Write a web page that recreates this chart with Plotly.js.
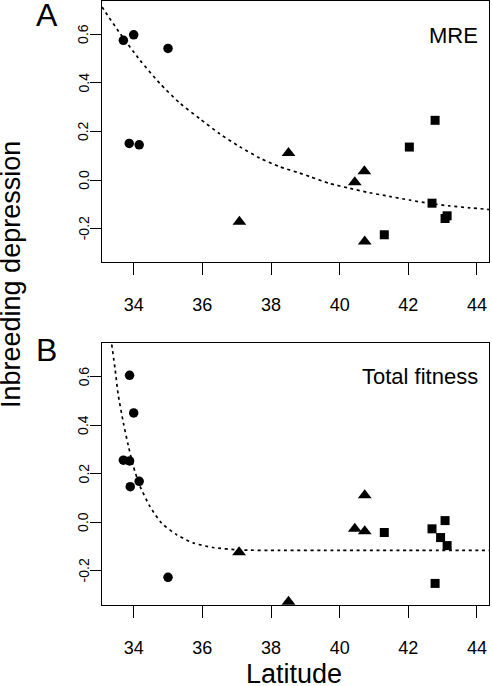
<!DOCTYPE html>
<html>
<head>
<meta charset="utf-8">
<script src="https://cdn.plot.ly/plotly-3.0.1.min.js"></script>
<style>
  html, body { margin: 0; padding: 0; background: #fff; }
  #chart { width: 492px; height: 686px; }
</style>
</head>
<body>
<div id="chart"></div>
<script>
// ---- Panel A (MRE) ----
const mreCircleLat = [33.70, 34.00, 35.00, 33.87, 34.16];
const mreCircleVal = [0.575, 0.598, 0.542, 0.151, 0.145];
const mreTriLat = [37.08, 38.51, 40.44, 40.72, 40.73];
const mreTriVal = [-0.171, 0.111, -0.009, 0.036, -0.253];
const mreSqLat = [42.03, 42.78, 42.69, 43.13, 43.07, 41.30];
const mreSqVal = [0.136, 0.246, -0.095, -0.147, -0.158, -0.225];
const mreFitLat = [33.08, 33.17, 33.60, 34.18, 34.76, 35.35, 35.93, 36.51, 37.09, 37.67, 38.25, 38.81, 39.14, 39.71, 40.30, 40.87, 41.45, 42.03, 42.61, 43.19, 43.78, 44.35];
const mreFitVal = [0.712, 0.693, 0.604, 0.494, 0.398, 0.316, 0.252, 0.190, 0.137, 0.091, 0.055, 0.030, 0.014, -0.014, -0.034, -0.052, -0.067, -0.082, -0.096, -0.106, -0.114, -0.121];

// ---- Panel B (Total fitness) ----
const totCircleLat = [33.88, 34.00, 33.70, 33.88, 33.90, 34.16, 35.00];
const totCircleVal = [0.606, 0.451, 0.256, 0.253, 0.147, 0.169, -0.227];
const totTriLat = [37.07, 40.73, 40.44, 40.73, 38.51];
const totTriVal = [-0.123, 0.111, -0.027, -0.037, -0.328];
const totSqLat = [41.30, 42.69, 43.07, 42.94, 43.13, 42.78];
const totSqVal = [-0.042, -0.027, 0.007, -0.063, -0.096, -0.252];
const totFitLat = [33.36, 33.46, 33.55, 33.70, 33.84, 33.99, 34.18, 34.47, 34.81, 35.25, 35.73, 36.31, 37.09, 38.25, 40.00, 42.00, 44.35];
const totFitVal = [0.733, 0.630, 0.525, 0.410, 0.318, 0.231, 0.150, 0.066, -0.003, -0.051, -0.085, -0.104, -0.114, -0.116, -0.116, -0.116, -0.116];

// ---- Ticks / labels ----
const xTickVals = [34, 36, 38, 40, 42, 44];
const yTickVals = [-0.2, 0.0, 0.2, 0.4, 0.6];
const yTickText = ['-0.2', '0.0', '0.2', '0.4', '0.6'];
const panelLetters = ['A', 'B'];
const panelTitles = ['MRE', 'Total fitness'];
const xTitle = 'Latitude';
const yTitle = 'Inbreeding depression';

const FONT = 'Liberation Sans, Arial, Helvetica, sans-serif';

function pts(x, y, sym, size, xa, ya) {
  return {
    x: x, y: y, xaxis: xa, yaxis: ya, type: 'scatter', mode: 'markers',
    cliponaxis: false, hoverinfo: 'skip', showlegend: false,
    marker: { symbol: sym, size: size, color: '#000', line: { width: 0 } }
  };
}
function fit(x, y, xa, ya) {
  return {
    x: x, y: y, xaxis: xa, yaxis: ya, type: 'scatter', mode: 'lines',
    hoverinfo: 'skip', showlegend: false,
    line: { color: '#000', width: 1.7, dash: '3px,3.6px', shape: 'spline', smoothing: 0.6 }
  };
}

const data = [
  fit(mreFitLat, mreFitVal, 'x', 'y'),
  pts(mreCircleLat, mreCircleVal, 'circle', 9.5, 'x', 'y'),
  pts(mreTriLat, mreTriVal, 'triangle-up', 12, 'x', 'y'),
  pts(mreSqLat, mreSqVal, 'square', 9, 'x', 'y'),
  fit(totFitLat, totFitVal, 'x2', 'y2'),
  pts(totCircleLat, totCircleVal, 'circle', 9.5, 'x2', 'y2'),
  pts(totTriLat, totTriVal, 'triangle-up', 12, 'x2', 'y2'),
  pts(totSqLat, totSqVal, 'square', 9, 'x2', 'y2')
];

function xax(anchor) {
  return {
    anchor: anchor, range: [33.077, 44.35], domain: [0, 1],
    tickvals: xTickVals, ticks: 'outside', ticklen: 12, tickwidth: 1, tickcolor: '#000',
    ticklabelstandoff: 14,
    showline: true, mirror: true, linecolor: '#000', linewidth: 1,
    showgrid: false, zeroline: false,
    tickfont: { family: FONT, size: 18, color: '#000' }
  };
}
function yax(anchor, dom, range) {
  return {
    anchor: anchor, range: range, domain: dom,
    tickvals: yTickVals, showticklabels: false,
    ticks: 'outside', ticklen: 11, tickwidth: 1, tickcolor: '#000',
    showline: true, mirror: true, linecolor: '#000', linewidth: 1,
    showgrid: false, zeroline: false
  };
}

const annFont = (s) => ({ family: FONT, size: s, color: '#000' });
const annotations = [
  { text: panelLetters[0], xref: 'paper', yref: 'paper', x: -0.142, y: 0.9763, xanchor: 'center', yanchor: 'middle', showarrow: false, font: annFont(32) },
  { text: panelLetters[1], xref: 'paper', yref: 'paper', x: -0.144, y: 0.4227, xanchor: 'center', yanchor: 'middle', showarrow: false, font: annFont(32) },
  { text: panelTitles[0], xref: 'paper', yref: 'paper', x: 0.9755, y: 0.9437, xanchor: 'right', yanchor: 'middle', showarrow: false, font: annFont(22) },
  { text: panelTitles[1], xref: 'paper', yref: 'paper', x: 0.9767, y: 0.3791, xanchor: 'right', yanchor: 'middle', showarrow: false, font: annFont(22) },
  { text: xTitle, xref: 'paper', yref: 'paper', x: 0.496, y: -0.1142, xanchor: 'center', yanchor: 'middle', showarrow: false, font: annFont(27) },
  { text: yTitle, xref: 'paper', yref: 'paper', x: -0.2352, y: 0.5480, xanchor: 'center', yanchor: 'middle', textangle: -90, showarrow: false, font: annFont(27) }
];
// rotated y tick labels (R style, parallel to the axis), placed on each panel's y scale
['y', 'y2'].forEach(function (ya) {
  yTickVals.forEach(function (v, i) {
    annotations.push({
      text: yTickText[i], xref: 'paper', yref: ya, x: -0.0475, y: v,
      xanchor: 'center', yanchor: 'middle', textangle: -90, showarrow: false,
      font: annFont(14)
    });
  });
});

const layout = {
  width: 492, height: 686,
  margin: { l: 102, r: 3, t: 1, b: 81, pad: 0 },
  paper_bgcolor: '#fff', plot_bgcolor: '#fff',
  xaxis: xax('y'),
  yaxis: yax('x', [0.5679, 1], [-0.337, 0.737]),
  xaxis2: xax('y2'),
  yaxis2: yax('x2', [0, 0.4333], [-0.341, 0.738]),
  annotations: annotations
};

Plotly.newPlot('chart', data, layout, { staticPlot: true, displayModeBar: false });
</script>
</body>
</html>
